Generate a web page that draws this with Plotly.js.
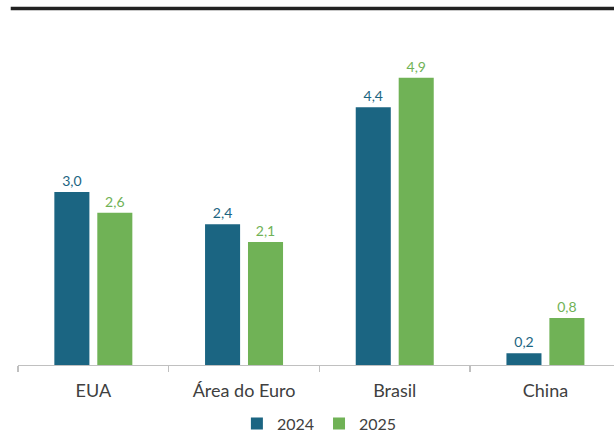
<!DOCTYPE html>
<html>
<head>
<meta charset="utf-8">
<script src="https://cdn.plot.ly/plotly-3.0.1.min.js"></script>
<style>html,body{margin:0;padding:0;background:#fff;}#chart{width:614px;height:435px;}</style>
</head>
<body>
<div id="chart"></div>
<script>
const categories = ['EUA', 'Área do Euro', 'Brasil', 'China'];
const seriesNames = ['2024', '2025'];
const values2024 = [2.95, 2.4, 4.4, 0.2];
const values2025 = [2.6, 2.1, 4.9, 0.8];

const colors = ['#1b6582', '#70b256'];
const font = 'Lato, "Open Sans", sans-serif';

const traces = [values2024, values2025].map((vals, i) => ({
  type: 'bar',
  name: seriesNames[i],
  x: categories,
  y: vals,
  marker: {color: colors[i], line: {width: 0}},
  texttemplate: '%{y:.1f}',
  textposition: 'outside',
  textfont: {family: font, size: 14, color: colors[i]},
  cliponaxis: false,
  hoverinfo: 'skip'
}));

const layout = {
  width: 614,
  height: 435,
  margin: {l: 18, r: 0, t: 20, b: 70},
  paper_bgcolor: '#ffffff',
  plot_bgcolor: '#ffffff',
  separators: ',.',
  barmode: 'group',
  bargap: 0.43,
  bargroupgap: 0.184,
  showlegend: true,
  legend: {
    orientation: 'h',
    x: 0.5057, xanchor: 'center',
    yref: 'container', y: 0.026, yanchor: 'middle',
    font: {family: font, size: 16, color: '#404040'},
    itemwidth: 30,
    traceorder: 'normal'
  },
  xaxis: {
    type: 'category',
    range: [-0.5, 3.455],
    showline: true,
    linecolor: '#c0c0c0',
    linewidth: 1.3,
    ticks: 'outside',
    tickson: 'boundaries',
    ticklen: 6,
    tickcolor: '#c0c0c0',
    tickwidth: 1.3,
    tickfont: {family: font, size: 18, color: '#404040'},
    ticklabelstandoff: 9,
    showgrid: false,
    zeroline: false,
    fixedrange: true
  },
  yaxis: {
    range: [0, 5.887],
    visible: false,
    showgrid: false,
    zeroline: false,
    fixedrange: true
  },
  shapes: [{
    type: 'line',
    xref: 'paper', yref: 'paper',
    x0: -0.0122, x1: 1.0,
    y0: 1.0333, y1: 1.0333,
    line: {color: '#222222', width: 3.5}
  }]
};

Plotly.newPlot('chart', traces, layout, {displayModeBar: false, staticPlot: true});
</script>
</body>
</html>
